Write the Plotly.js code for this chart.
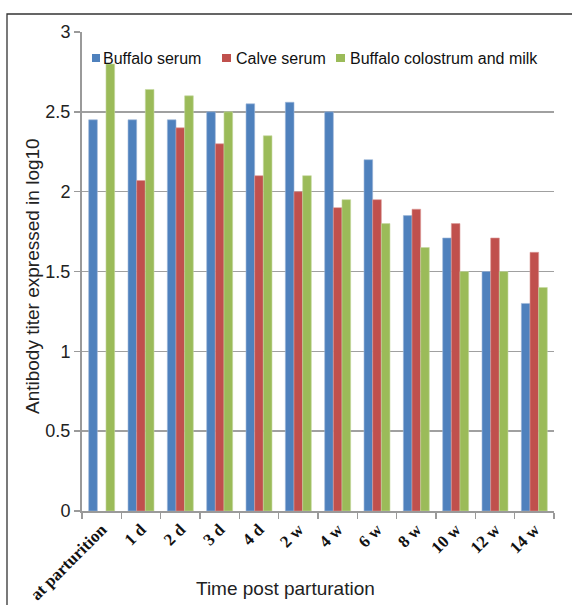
<!DOCTYPE html>
<html>
<head>
<meta charset="utf-8">
<script src="https://cdn.plot.ly/plotly-3.0.1.min.js"></script>
<style>
  html, body { margin: 0; padding: 0; background: #ffffff; }
  #chart { width: 572px; height: 605px; }
</style>
</head>
<body>
<div id="chart"></div>
<script>
// ---- Data ----
const categories = ["at parturition", "1 d", "2 d", "3 d", "4 d", "2 w", "4 w", "6 w", "8 w", "10 w", "12 w", "14 w"];
const buffaloSerum = [2.45, 2.45, 2.45, 2.50, 2.55, 2.56, 2.50, 2.20, 1.85, 1.71, 1.50, 1.30];
const calveSerum = [null, 2.07, 2.40, 2.30, 2.10, 2.00, 1.90, 1.95, 1.89, 1.80, 1.71, 1.62];
const colostrumMilk = [2.80, 2.64, 2.60, 2.50, 2.35, 2.10, 1.95, 1.80, 1.65, 1.50, 1.50, 1.40];
const seriesNames = ["Buffalo serum", "Calve serum", "Buffalo colostrum and milk"];
const yTickVals = [0, 0.5, 1, 1.5, 2, 2.5, 3];
const yTickText = ["0", "0.5", "1", "1.5", "2", "2.5", "3"];

// ---- Styles ----
const colors = ["#4F81BD", "#C0504D", "#9BBB59"];
const outline = ["#9db7d8", "#dc9a98", "#c4d89f"];

const seriesValues = [buffaloSerum, calveSerum, colostrumMilk];
const traces = seriesValues.map((vals, i) => ({
  type: "bar",
  name: seriesNames[i],
  x: categories,
  y: vals,
  marker: { color: colors[i], line: { color: outline[i], width: 0.6 } },
  hoverinfo: "x+y+name"
}));

// plot area in pixels: x 82..554, y 32..511
const L = 82, R = 554, T = 32, B = 511;
const px = x => (x - L) / (R - L);
const py = y => (B - y) / (B - T);

const legendY0 = 54, legendY1 = 62;
const legendItems = [
  { sq: [92, 100], tx: 101 },
  { sq: [222, 231], tx: 234 },
  { sq: [336, 345], tx: 348 }
];

const shapes = [
  // outer frame (top and left edges visible)
  { type: "rect", xref: "paper", yref: "paper",
    x0: px(7), x1: px(600), y0: py(640), y1: py(14),
    line: { color: "#333333", width: 1.3 }, fillcolor: "rgba(0,0,0,0)", layer: "above" }
];
const annotations = [
  { text: "Time post parturation", xref: "paper", yref: "paper",
    x: px(285), y: py(588), xanchor: "center", yanchor: "middle", showarrow: false,
    font: { family: "Liberation Sans, Arial, sans-serif", size: 19, color: "#222222" } },
  { text: "Antibody titer expressed in log10", xref: "paper", yref: "paper",
    x: px(32), y: py(276), xanchor: "center", yanchor: "middle", textangle: -90, showarrow: false,
    font: { family: "Liberation Sans, Arial, sans-serif", size: 19, color: "#222222" } }
];
legendItems.forEach((it, i) => {
  shapes.push({ type: "rect", xref: "paper", yref: "paper",
    x0: px(it.sq[0]), x1: px(it.sq[1]), y0: py(legendY1), y1: py(legendY0),
    line: { width: 0 }, fillcolor: colors[i], layer: "above" });
  annotations.push({ text: seriesNames[i], xref: "paper", yref: "paper",
    x: px(it.tx), y: py(58), xanchor: "left", yanchor: "middle", showarrow: false,
    font: { family: "Liberation Sans, Arial, sans-serif", size: 16, color: "#111111" } });
});

const layout = {
  width: 572, height: 605,
  margin: { l: L, r: 572 - R, t: T, b: 605 - B, pad: 0 },
  paper_bgcolor: "#ffffff", plot_bgcolor: "#ffffff",
  showlegend: false,
  barmode: "group",
  bargap: 0.34, bargroupgap: 0,
  xaxis: {
    type: "category",
    tickangle: -45,
    tickson: "boundaries",
    ticks: "outside", ticklen: 6, tickwidth: 1.5, tickcolor: "#9a9a9a",
    showline: true, linecolor: "#9a9a9a", linewidth: 2,
    showgrid: false, zeroline: false,
    tickfont: { family: "Liberation Serif, Times New Roman, serif", size: 17, color: "#111111", weight: "bold" }
  },
  yaxis: {
    range: [0, 3],
    tickvals: yTickVals, ticktext: yTickText,
    ticks: "outside", ticklen: 6, tickwidth: 1.5, tickcolor: "#9a9a9a",
    showline: true, linecolor: "#9a9a9a", linewidth: 2,
    showgrid: true, gridcolor: "#a0a0a0", gridwidth: 1.5,
    zeroline: false,
    tickfont: { family: "Liberation Sans, Arial, sans-serif", size: 18, color: "#222222" }
  },
  shapes: shapes,
  annotations: annotations
};

Plotly.newPlot("chart", traces, layout, { displayModeBar: false, staticPlot: true });
</script>
</body>
</html>
